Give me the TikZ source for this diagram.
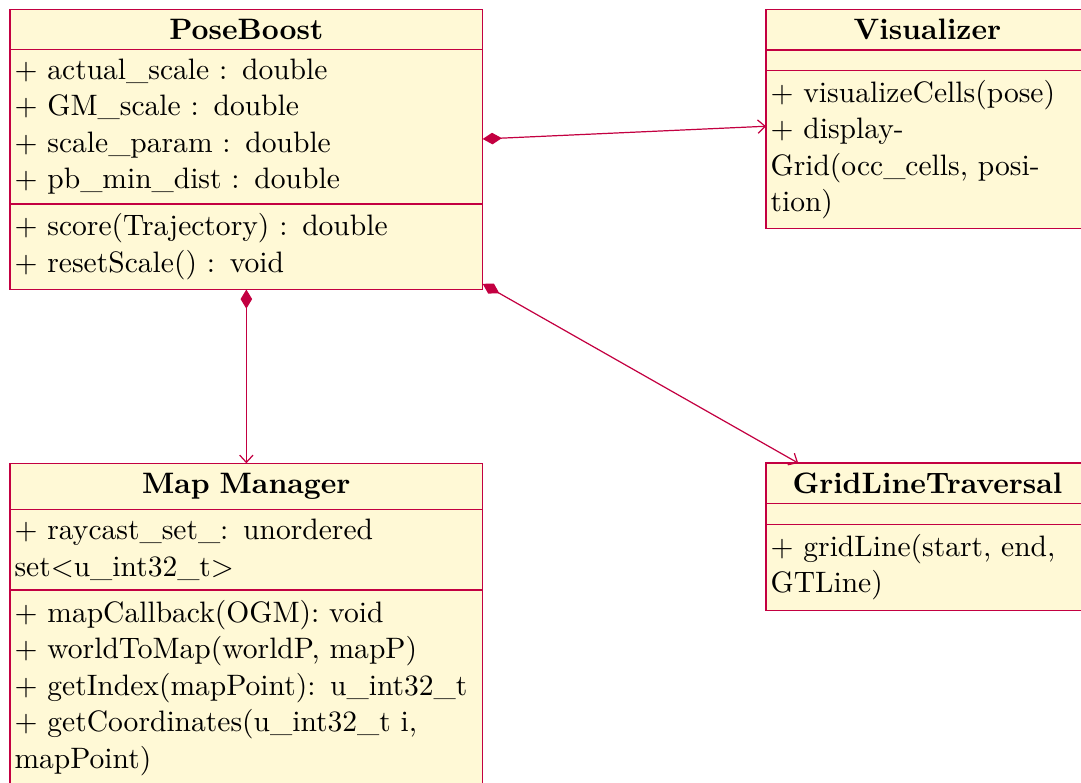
\documentclass[tikz,border=0pt]{standalone}
\usetikzlibrary{arrows.meta,fit}
\definecolor{umlline}{RGB}{195,0,65}
\definecolor{umlfill}{RGB}{255,249,214}
\newcommand{\umltext}{\fontsize{9.72pt}{12pt}\selectfont}
\tikzset{
  part/.style={fill=umlfill, rectangle, anchor=north west, outer sep=0pt,
    inner xsep=1.5pt, inner ysep=0.5pt, align=left, font=\umltext},
  ctitle/.style={part, align=center, font=\umltext\bfseries},
  wide/.style={text width=152.47pt},
  narrow/.style={text width=103.2pt},
  classbox/.style={fit=#1, inner sep=0pt, outer sep=0pt, draw=umlline, line width=0.4pt},
  sepline/.style={draw=umlline, line width=0.4pt},
  composition/.style={draw=umlline, line width=0.4pt,
    {Diamond[length=6.3pt,width=3.8pt]}-{Straight Barb[length=2.4pt,width=4.4pt]}}
}
\begin{document}
\begin{tikzpicture}[x=1pt,y=-1pt]
\path[use as bounding box] (0,0) rectangle (355.55,257.53);
\clip (0,0) rectangle (355.55,257.53);

% PoseBoost
\node[ctitle, wide, minimum height=13.02pt] (pbT) at (3.29,3.19) {PoseBoost};
\node[part, wide, minimum height=50.89pt] (pbA) at (pbT.south west)
  {+ actual\_scale : double\\+ GM\_scale : double\\+ scale\_param : double\\+ pb\_min\_dist : double};
\node[part, wide, minimum height=28.12pt] (pbO) at (pbA.south west)
  {+ score(Trajectory) : double\\+ resetScale() : void};
\node[classbox={(pbT)(pbA)(pbO)}] (poseboost) {};
\draw[sepline] (pbA.north west) -- (pbA.north east);
\draw[sepline] (pbO.north west) -- (pbO.north east);

% Visualizer
\node[ctitle, narrow, minimum height=13.26pt] (viT) at (251.94,3.19) {Visualizer};
\node[part, narrow, minimum height=6.8pt] (viA) at (viT.south west) {};
\node[part, narrow, minimum height=51.84pt] (viO) at (viA.south west)
  {+ visualizeCells(pose)\\+ display-\\Grid(occ\_cells, posi-\\tion)};
\node[classbox={(viT)(viA)(viO)}] (visualizer) {};
\draw[sepline] (viA.north west) -- (viA.north east);
\draw[sepline] (viO.north west) -- (viO.north east);

% Map Manager
\node[ctitle, wide, minimum height=15.13pt] (mmT) at (3.29,152.38) {Map Manager};
\node[part, wide, minimum height=26.54pt] (mmA) at (mmT.south west)
  {+ raycast\_set\_: unordered\\set\textless u\_int32\_t\textgreater};
\node[part, wide, minimum height=64.5pt] (mmO) at (mmA.south west)
  {+ mapCallback(OGM): void\\+ worldToMap(worldP, mapP)\\+ getIndex(mapPoint): u\_int32\_t\\+ getCoordinates(u\_int32\_t i,\\mapPoint)};
\node[classbox={(mmT)(mmA)(mmO)}] (mapmanager) {};
\draw[sepline] (mmA.north west) -- (mmA.north east);
\draw[sepline] (mmO.north west) -- (mmO.north east);

% GridLineTraversal
\node[ctitle, narrow, minimum height=13.3pt] (glT) at (251.94,152.3) {GridLineTraversal};
\node[part, narrow, minimum height=6.8pt] (glA) at (glT.south west) {};
\node[part, narrow, minimum height=28.3pt] (glO) at (glA.south west)
  {+ gridLine(start, end,\\GTLine)};
\node[classbox={(glT)(glA)(glO)}] (gridline) {};
\draw[sepline] (glA.north west) -- (glA.north east);
\draw[sepline] (glO.north west) -- (glO.north east);

% Compositions
\draw[composition] (poseboost) -- (visualizer);
\draw[composition] (poseboost) -- (mapmanager);
\draw[composition] (poseboost) -- (gridline);
\end{tikzpicture}
\end{document}
